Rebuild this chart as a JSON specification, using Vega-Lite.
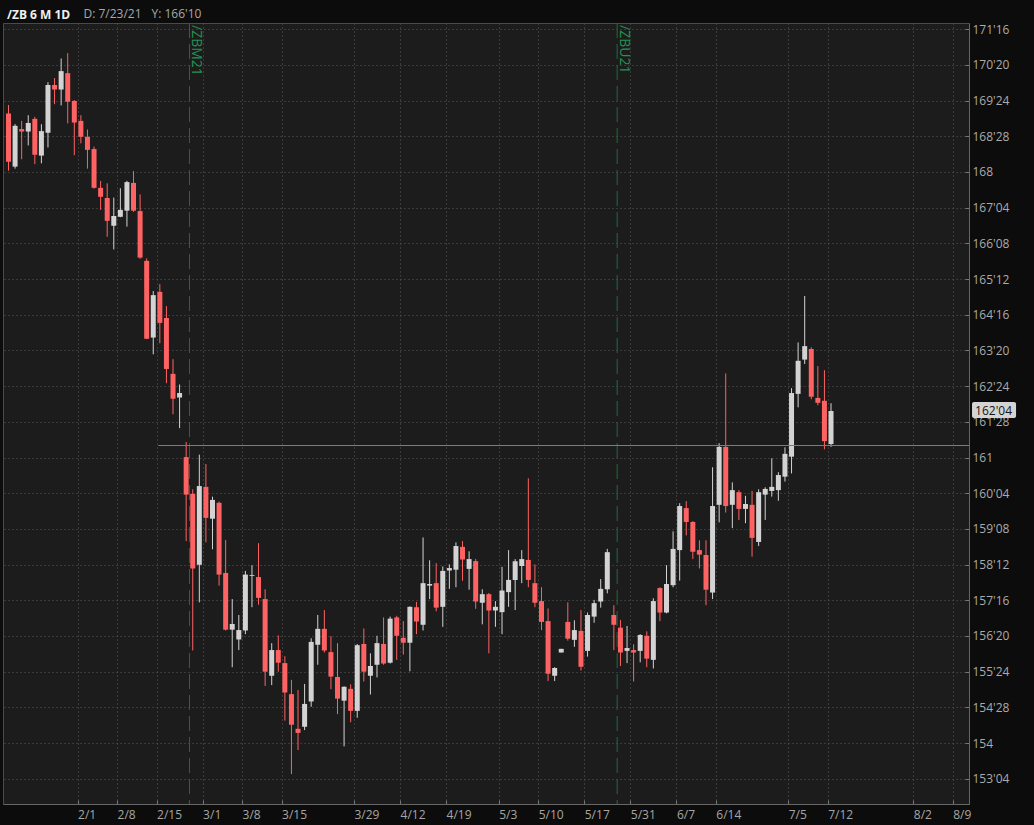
{
  "$schema": "https://vega.github.io/schema/vega-lite/v6.json",
  "width": 966,
  "height": 781,
  "autosize": {"type": "none"},
  "padding": {"left": 3, "top": 23, "right": 65, "bottom": 21},
  "background": "#0c0c0c",
  "config": {
    "view": {"fill": "#1c1c1c", "stroke": "#4a4a4a", "strokeWidth": 1},
    "font": "Open Sans",
    "axis": {"labelOverlap": false, "labelSeparation": 0}
  },
  "title": {
    "text": "/ZB 6 M 1D",
    "anchor": "start",
    "frame": "group",
    "offset": 6,
    "dx": 4,
    "dy": 30,
    "fontSize": 12,
    "fontWeight": "bold",
    "color": "#f0f0f0",
    "font": "Open Sans",
    "baseline": "alphabetic"
  },
  "datasets": {
    "candles": [
      {"i":0,"o":169.43,"h":169.64,"l":168.03,"c":168.25},
      {"i":1,"o":168.13,"h":169.17,"l":168.08,"c":169.13},
      {"i":2,"o":169.05,"h":169.25,"l":168.31,"c":168.99},
      {"i":3,"o":168.99,"h":169.39,"l":168.65,"c":169.20},
      {"i":4,"o":169.30,"h":169.35,"l":168.19,"c":168.42},
      {"i":5,"o":168.40,"h":169.17,"l":168.21,"c":169.00},
      {"i":6,"o":168.96,"h":170.20,"l":168.60,"c":170.13},
      {"i":7,"o":170.13,"h":170.30,"l":169.66,"c":170.02},
      {"i":8,"o":170.02,"h":170.78,"l":169.63,"c":170.47},
      {"i":9,"o":170.42,"h":170.91,"l":169.19,"c":169.72},
      {"i":10,"o":169.74,"h":169.76,"l":168.41,"c":169.21},
      {"i":11,"o":169.25,"h":169.39,"l":168.70,"c":168.86},
      {"i":12,"o":168.86,"h":169.04,"l":168.08,"c":168.54},
      {"i":13,"o":168.56,"h":168.62,"l":167.59,"c":167.61},
      {"i":14,"o":167.61,"h":167.78,"l":167.07,"c":167.39},
      {"i":15,"o":167.36,"h":167.72,"l":166.41,"c":166.80},
      {"i":16,"o":166.68,"h":167.37,"l":166.10,"c":166.92},
      {"i":17,"o":166.90,"h":167.60,"l":166.89,"c":167.07},
      {"i":18,"o":167.05,"h":167.78,"l":166.66,"c":167.75},
      {"i":19,"o":167.73,"h":168.02,"l":167.02,"c":167.05},
      {"i":20,"o":167.04,"h":167.45,"l":165.87,"c":165.90},
      {"i":21,"o":165.82,"h":165.88,"l":163.90,"c":163.91},
      {"i":22,"o":163.94,"h":165.08,"l":163.53,"c":164.98},
      {"i":23,"o":165.06,"h":165.25,"l":163.80,"c":164.30},
      {"i":24,"o":164.42,"h":164.71,"l":162.82,"c":163.17},
      {"i":25,"o":163.05,"h":163.41,"l":162.06,"c":162.44},
      {"i":26,"o":162.47,"h":162.79,"l":161.72,"c":162.58},
      {"i":27,"o":161.01,"h":161.38,"l":158.95,"c":160.09},
      {"i":28,"o":160.11,"h":160.22,"l":156.27,"c":158.28},
      {"i":29,"o":158.37,"h":161.07,"l":157.45,"c":160.30},
      {"i":30,"o":160.28,"h":160.84,"l":158.92,"c":159.52},
      {"i":31,"o":159.50,"h":160.04,"l":158.75,"c":159.96},
      {"i":32,"o":159.89,"h":159.92,"l":157.86,"c":158.13},
      {"i":33,"o":158.17,"h":158.98,"l":156.76,"c":156.78},
      {"i":34,"o":156.78,"h":157.53,"l":155.86,"c":156.92},
      {"i":35,"o":156.54,"h":157.14,"l":156.28,"c":156.77},
      {"i":36,"o":156.76,"h":158.22,"l":156.67,"c":158.13},
      {"i":37,"o":158.10,"h":158.36,"l":157.33,"c":158.12},
      {"i":38,"o":158.07,"h":158.90,"l":157.39,"c":157.56},
      {"i":39,"o":157.53,"h":157.77,"l":155.40,"c":155.75},
      {"i":40,"o":155.65,"h":156.45,"l":155.42,"c":156.28},
      {"i":41,"o":156.28,"h":156.64,"l":155.75,"c":155.97},
      {"i":42,"o":155.96,"h":156.13,"l":154.55,"c":155.24},
      {"i":43,"o":155.20,"h":155.55,"l":153.24,"c":154.45},
      {"i":44,"o":154.35,"h":155.30,"l":153.83,"c":154.25},
      {"i":45,"o":154.40,"h":155.45,"l":154.32,"c":154.96},
      {"i":46,"o":155.02,"h":156.57,"l":154.89,"c":156.48},
      {"i":47,"o":156.41,"h":157.14,"l":155.92,"c":156.80},
      {"i":48,"o":156.80,"h":157.26,"l":156.22,"c":156.27},
      {"i":49,"o":156.23,"h":156.62,"l":155.32,"c":155.63},
      {"i":50,"o":155.62,"h":156.45,"l":154.71,"c":155.09},
      {"i":51,"o":155.04,"h":155.39,"l":153.92,"c":155.38},
      {"i":52,"o":155.33,"h":155.44,"l":154.51,"c":154.79},
      {"i":53,"o":154.79,"h":156.43,"l":154.62,"c":156.40},
      {"i":54,"o":156.43,"h":156.81,"l":155.51,"c":155.75},
      {"i":55,"o":155.65,"h":156.20,"l":155.19,"c":155.89},
      {"i":56,"o":155.92,"h":156.63,"l":155.61,"c":156.45},
      {"i":57,"o":156.43,"h":157.08,"l":155.92,"c":155.95},
      {"i":58,"o":155.97,"h":157.10,"l":155.95,"c":157.05},
      {"i":59,"o":157.08,"h":157.12,"l":156.04,"c":156.63},
      {"i":60,"o":156.58,"h":156.99,"l":156.17,"c":156.46},
      {"i":61,"o":156.46,"h":157.35,"l":155.76,"c":157.34},
      {"i":62,"o":157.33,"h":157.46,"l":156.67,"c":156.98},
      {"i":63,"o":156.90,"h":159.04,"l":156.76,"c":157.92},
      {"i":64,"o":157.86,"h":158.48,"l":157.53,"c":157.90},
      {"i":65,"o":157.92,"h":158.41,"l":157.23,"c":157.32},
      {"i":66,"o":157.34,"h":158.33,"l":156.85,"c":158.22},
      {"i":67,"o":158.23,"h":158.38,"l":157.78,"c":158.29},
      {"i":68,"o":158.25,"h":158.92,"l":157.82,"c":158.83},
      {"i":69,"o":158.81,"h":158.95,"l":157.98,"c":158.50},
      {"i":70,"o":158.27,"h":158.70,"l":157.76,"c":158.51},
      {"i":71,"o":158.46,"h":158.51,"l":157.29,"c":157.47},
      {"i":72,"o":157.44,"h":157.77,"l":156.91,"c":157.65},
      {"i":73,"o":157.65,"h":157.68,"l":156.20,"c":157.25},
      {"i":74,"o":157.25,"h":157.48,"l":156.85,"c":157.34},
      {"i":75,"o":157.21,"h":158.32,"l":156.67,"c":157.74},
      {"i":76,"o":157.70,"h":158.73,"l":157.34,"c":158.00},
      {"i":77,"o":158.00,"h":158.51,"l":157.26,"c":158.46},
      {"i":78,"o":158.34,"h":158.73,"l":157.92,"c":158.51},
      {"i":79,"o":158.49,"h":160.49,"l":157.82,"c":158.00},
      {"i":80,"o":157.92,"h":158.38,"l":157.33,"c":157.44},
      {"i":81,"o":157.48,"h":157.82,"l":156.77,"c":156.97},
      {"i":82,"o":156.99,"h":157.30,"l":155.52,"c":155.70},
      {"i":83,"o":155.65,"h":155.86,"l":155.52,"c":155.84},
      {"i":84,"o":156.22,"h":156.31,"l":156.22,"c":156.31},
      {"i":85,"o":156.97,"h":157.45,"l":156.51,"c":156.56},
      {"i":86,"o":156.53,"h":157.01,"l":156.36,"c":156.77},
      {"i":87,"o":156.75,"h":157.26,"l":155.78,"c":155.87},
      {"i":88,"o":156.26,"h":157.20,"l":156.12,"c":157.14},
      {"i":89,"o":157.10,"h":157.51,"l":156.95,"c":157.43},
      {"i":90,"o":157.47,"h":158.02,"l":157.32,"c":157.78},
      {"i":91,"o":157.77,"h":158.76,"l":157.67,"c":158.68},
      {"i":92,"o":157.14,"h":157.38,"l":156.28,"c":156.90},
      {"i":93,"o":156.83,"h":157.02,"l":155.89,"c":156.22},
      {"i":94,"o":156.26,"h":156.87,"l":155.96,"c":156.33},
      {"i":95,"o":156.28,"h":156.42,"l":155.51,"c":156.22},
      {"i":96,"o":156.26,"h":156.67,"l":155.98,"c":156.65},
      {"i":97,"o":156.63,"h":156.74,"l":155.86,"c":156.07},
      {"i":98,"o":156.04,"h":157.55,"l":155.83,"c":157.48},
      {"i":99,"o":157.80,"h":157.82,"l":156.99,"c":157.20},
      {"i":100,"o":157.20,"h":158.36,"l":157.18,"c":157.90},
      {"i":101,"o":157.87,"h":159.19,"l":157.82,"c":158.76},
      {"i":102,"o":158.73,"h":159.88,"l":157.98,"c":159.81},
      {"i":103,"o":159.76,"h":159.93,"l":159.09,"c":159.42},
      {"i":104,"o":159.42,"h":159.44,"l":158.51,"c":158.69},
      {"i":105,"o":158.73,"h":158.97,"l":158.28,"c":158.62},
      {"i":106,"o":158.61,"h":158.97,"l":157.38,"c":157.76},
      {"i":107,"o":157.69,"h":160.76,"l":157.53,"c":159.81},
      {"i":108,"o":159.84,"h":161.35,"l":159.41,"c":161.26},
      {"i":109,"o":161.26,"h":163.06,"l":159.65,"c":159.81},
      {"i":110,"o":159.84,"h":160.39,"l":159.27,"c":160.20},
      {"i":111,"o":160.15,"h":160.20,"l":159.47,"c":159.74},
      {"i":112,"o":159.74,"h":160.06,"l":159.39,"c":159.86},
      {"i":113,"o":159.84,"h":160.18,"l":158.57,"c":159.03},
      {"i":114,"o":158.93,"h":160.22,"l":158.83,"c":160.15},
      {"i":115,"o":160.09,"h":160.27,"l":159.47,"c":160.23},
      {"i":116,"o":160.18,"h":160.98,"l":160.04,"c":160.28},
      {"i":117,"o":160.20,"h":160.64,"l":159.94,"c":160.57},
      {"i":118,"o":160.53,"h":161.25,"l":160.41,"c":161.09},
      {"i":119,"o":161.02,"h":162.70,"l":160.61,"c":162.58},
      {"i":120,"o":162.56,"h":163.82,"l":162.23,"c":163.37},
      {"i":121,"o":163.40,"h":164.96,"l":163.29,"c":163.73},
      {"i":122,"o":163.66,"h":163.70,"l":162.43,"c":162.49},
      {"i":123,"o":162.46,"h":163.24,"l":162.28,"c":162.34},
      {"i":124,"o":162.39,"h":163.14,"l":161.20,"c":161.40},
      {"i":125,"o":161.33,"h":162.33,"l":161.26,"c":162.14}
    ],
    "rolls": [
      {"i": 27.5, "label": "/ZBM21"},
      {"i": 92.5, "label": "/ZBU21"}
    ]
  },
  "layer": [
    {
      "data": {"name": "candles"},
      "mark": {"type": "rule", "strokeWidth": 1},
      "encoding": {
        "x": {
          "field": "i",
          "type": "quantitative",
          "scale": {"domain": [-0.836, 145.97], "nice": false, "zero": false, "padding": 0},
          "axis": {
            "values": [10.5,16.5,22.5,29.5,35.5,41.5,52.5,59.5,66.5,74.5,80.5,87.5,94.5,101.5,107.5,118.5,124.5,137.5,143.5],
            "tickCount": 60,
            "labelExpr": "['2/1','2/8','2/15','3/1','3/8','3/15','3/29','4/12','4/19','5/3','5/10','5/17','5/31','6/7','6/14','7/5','7/12','8/2','8/9'][indexof([10.5,16.5,22.5,29.5,35.5,41.5,52.5,59.5,66.5,74.5,80.5,87.5,94.5,101.5,107.5,118.5,124.5,137.5,143.5], datum.value)]",
            "labelAlign": "left",
            "labelColor": "#a6a6a6",
            "labelFontSize": 12,
            "labelFont": "Open Sans",
            "labelOverlap": false,
            "labelFlush": false,
            "labelBound": false,
            "labelPadding": 9,
            "tickSize": -4,
            "tickColor": "#777777",
            "domainColor": "#666666",
            "grid": true,
            "gridColor": "#585858",
            "gridDash": [1, 3],
            "title": "Y: 166'10",
            "titleX": 148,
            "titleY": -787,
            "titleAlign": "left",
            "titleAnchor": null,
            "titleBaseline": "alphabetic",
            "titleColor": "#a8a8a8",
            "titleFont": "Open Sans",
            "titleFontSize": 12,
            "titleFontWeight": "normal"
          }
        },
        "y": {
          "field": "l",
          "type": "quantitative",
          "scale": {"domain": [152.507, 171.65], "nice": false, "zero": false, "padding": 0},
          "axis": {
            "orient": "right",
            "values": [171.5,170.625,169.75,168.875,168,167.125,166.25,165.375,164.5,163.625,162.75,161.875,161,160.125,159.25,158.375,157.5,156.625,155.75,154.875,154,153.125],
            "tickCount": 60,
            "labelExpr": "floor(datum.value) + (round((datum.value - floor(datum.value)) * 32) == 0 ? '' : \"'\" + (round((datum.value - floor(datum.value)) * 32) < 10 ? '0' : '') + round((datum.value - floor(datum.value)) * 32))",
            "labelColor": "#ababab",
            "labelFontSize": 12,
            "labelFont": "Open Sans",
            "labelOverlap": false,
            "labelFlush": false,
            "labelBound": false,
            "labelSeparation": 0,
            "labelPadding": 7,
            "tickSize": -4,
            "tickColor": "#777777",
            "domainColor": "#666666",
            "grid": true,
            "gridColor": "#585858",
            "gridDash": [1, 3],
            "title": "D: 7/23/21",
            "titleAngle": 0,
            "titleX": -886,
            "titleY": -6,
            "titleAlign": "left",
            "titleAnchor": null,
            "titleBaseline": "alphabetic",
            "titleColor": "#a8a8a8",
            "titleFont": "Open Sans",
            "titleFontSize": 12,
            "titleFontWeight": "normal"
          }
        },
        "y2": {"field": "h"},
        "color": {
          "condition": {"test": "datum.c < datum.o", "value": "#ff6262"},
          "value": "#d3d3d3"
        }
      }
    },
    {
      "data": {"name": "candles"},
      "mark": {"type": "bar", "size": 5},
      "encoding": {
        "x": {"field": "i", "type": "quantitative"},
        "y": {"field": "o", "type": "quantitative"},
        "y2": {"field": "c"},
        "color": {
          "condition": {"test": "datum.c < datum.o", "value": "#ff6262"},
          "value": "#d3d3d3"
        }
      }
    },
    {
      "data": {"name": "rolls"},
      "mark": {"type": "rule", "color": "#1b6e3e", "strokeWidth": 1, "strokeDash": [15, 6]},
      "encoding": {
        "x": {"field": "i", "type": "quantitative"}
      }
    },
    {
      "data": {"name": "rolls"},
      "mark": {"type": "text", "angle": 90, "align": "left", "baseline": "bottom", "dy": 0, "dx": 0, "fontSize": 14, "font": "Open Sans", "color": "#239352"},
      "encoding": {
        "x": {"field": "i", "type": "quantitative"},
        "y": {"datum": 171.6},
        "text": {"field": "label"}
      }
    },
    {
      "data": {"values": [{}]},
      "mark": {"type": "rule", "color": "#cc5a5a", "strokeWidth": 1},
      "encoding": {
        "x": {"datum": 22.77},
        "x2": {"datum": 145.97},
        "y": {"datum": 161.294}
      }
    },
    {
      "data": {"values": [{}]},
      "mark": {"type": "rect", "color": "#d4d4d4", "cornerRadius": 2, "clip": false},
      "encoding": {
        "x": {"datum": 146.43},
        "x2": {"datum": 153.12},
        "y": {"datum": 162.36},
        "y2": {"datum": 161.97}
      }
    },
    {
      "data": {"values": [{}]},
      "mark": {"type": "text", "align": "left", "baseline": "middle", "fontSize": 12, "font": "Open Sans", "color": "#151515", "clip": false},
      "encoding": {
        "x": {"datum": 146.9},
        "y": {"datum": 162.15},
        "text": {"value": "162'04"}
      }
    }
  ]
}
